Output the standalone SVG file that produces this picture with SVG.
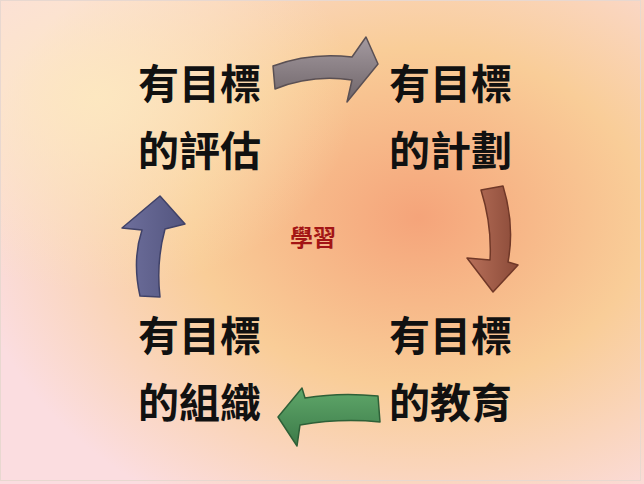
<svg xmlns="http://www.w3.org/2000/svg" width="644" height="484" viewBox="0 0 644 484">
<defs>
<radialGradient id="bg1" cx="0.65" cy="0.45" r="0.7">
<stop offset="0" stop-color="#f5a47a"/>
<stop offset="0.5" stop-color="#f9cd98"/>
<stop offset="1" stop-color="#fbdde0"/>
</radialGradient>
<radialGradient id="bg2" cx="0.15" cy="0.2" r="0.4">
<stop offset="0" stop-color="#fde9c0" stop-opacity="0.9"/>
<stop offset="1" stop-color="#fde9c0" stop-opacity="0"/>
</radialGradient>
<linearGradient id="g1" x1="0" y1="0" x2="0" y2="1"><stop offset="0" stop-color="#a49aa0"/><stop offset="1" stop-color="#6e6468"/></linearGradient>
<linearGradient id="g2" x1="0" y1="0" x2="1" y2="0"><stop offset="0" stop-color="#b8705a"/><stop offset="1" stop-color="#8a4a38"/></linearGradient>
<linearGradient id="g3" x1="0" y1="0" x2="0" y2="1"><stop offset="0" stop-color="#5fa76a"/><stop offset="1" stop-color="#3c7a48"/></linearGradient>
<linearGradient id="g4" x1="0" y1="0" x2="1" y2="0"><stop offset="0" stop-color="#6e6f9c"/><stop offset="1" stop-color="#53557f"/></linearGradient>
<style>
.t{font-family:"Noto Sans CJK TC","Noto Sans CJK SC",sans-serif;font-weight:bold;font-size:41px;fill:#111}
.c{font-family:"Noto Sans CJK TC","Noto Sans CJK SC",sans-serif;font-weight:bold;font-size:23px;fill:#a31515;text-anchor:middle}
.a{stroke-width:1.5;stroke-linejoin:round}
</style>
</defs>
<rect width="644" height="484" fill="url(#bg1)"/>
<rect width="644" height="484" fill="url(#bg2)"/>
<rect x="0.5" y="0.5" width="640" height="480" fill="none" stroke="#e8d8d0"/>
<g id="center"><text class="c" x="313" y="246">學習</text></g>
<g id="n1"><text class="t" x="138" y="99">有目標</text><text class="t" x="138" y="166">的評估</text></g>
<g id="n2"><text class="t" x="389" y="99">有目標</text><text class="t" x="389" y="166">的計劃</text></g>
<g id="n3"><text class="t" x="389" y="351">有目標</text><text class="t" x="389" y="418">的教育</text></g>
<g id="n4"><text class="t" x="138" y="351">有目標</text><text class="t" x="138" y="418">的組織</text></g>
<g id="connectors">
<path class="a" fill="url(#g1)" stroke="#5a5054" d="M273,66 Q310,52 352,57 L366,37 L378,64 L347,102 L352,80 Q312,74 275,89 Z"/>
<path class="a" fill="url(#g2)" stroke="#703828" d="M481,190 L503,186 Q515,225 508,262 L518,265 L493,292 L467,258 L490,260 Q492,225 481,190 Z"/>
<path class="a" fill="url(#g3)" stroke="#2e6038" d="M378,396 Q340,392 305,398 L302,388 L278,417 L297,446 L300,425 Q340,418 380,422 Z"/>
<path class="a" fill="url(#g4)" stroke="#404268" d="M140,296 Q132,260 142,230 L122,228 L160,196 L185,224 L165,229 Q156,262 160,297 Z"/>
</g>
</svg>
